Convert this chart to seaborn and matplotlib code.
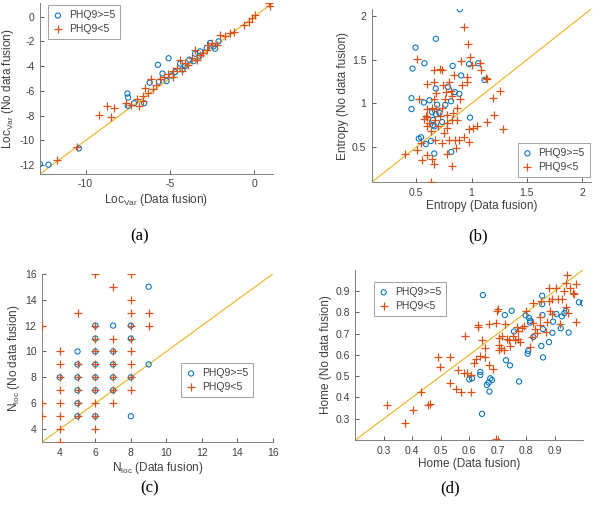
import numpy as np
import pandas as pd
import seaborn as sns
import matplotlib.pyplot as plt

# ---- panel (a): LocVar
a_hi_x = [-12.7, -12.2, -10.4, -7.52, -7.48, -7.5, -7.12, -6.53, -5.71, -5.44, -5.08, -5.65, -5.2, -6.2,
          -4.9, -4.7, -4.4, -4.1, -3.85, -3.51, -3.21, -2.62, -2.42, -2.32, -2.12, -2.82, -3.25, -3.6, -4.25]
a_hi_y = [-11.9, -11.95, -10.64, -6.21, -6.53, -7.2, -6.99, -6.99, -3.89, -4.59, -3.36, -5.25, -5.2, -5.33,
          -4.75, -4.48, -3.79, -4.0, -3.47, -2.99, -2.8, -2.13, -2.4, -2.59, -2.0, -2.53, -3.2, -3.6, -4.27]
a_lo_x = [-9.2, -8.73, -8.47, -8.3, -10.5, -11.7, -7.58, -6.94, -6.83, -6.6, -6.45, -6.3, -6.15, -6.0,
          -5.8, -5.6, -5.36, -5.1, -4.8, -4.6, -4.4, -4.3, -4.1, -3.9, -3.71, -3.51, -3.41, -3.21, -3.02,
          -2.82, -2.72, -2.52, -2.22, -2.02, -1.73, -1.43, -1.23, -0.63, -0.34, -0.14, 0.06, 0.85, 0.91,
          -4.8, -6.6, -7.28]
a_lo_y = [-7.95, -7.2, -8.08, -7.41, -10.5, -11.55, -7.01, -6.67, -7.2, -6.4, -5.73, -6.13, -5.07, -5.87,
          -5.55, -5.07, -4.85, -4.67, -4.4, -4.13, -3.52, -4.4, -3.73, -3.87, -3.33, -2.67, -3.47, -3.07, -2.93,
          -2.67, -2.27, -2.13, -2.27, -1.47, -1.55, -1.33, -1.2, -0.67, -0.4, -0.13, 0.13, 1.12, 0.85,
          -4.85, -6.8, -7.15]

# ---- panel (b): Entropy
b_hi_x = [0.894, 0.494, 0.677, 0.466, 0.574, 0.829, 0.906, 0.977, 1.06, 1.117, 0.457, 0.457, 0.62, 0.569,
          0.677, 0.786, 0.849, 0.889, 0.814, 0.689, 0.763, 0.643, 0.677, 0.711, 0.734, 0.651, 0.666, 0.986,
          0.523, 0.543, 0.586, 0.634, 0.663, 0.817, 0.651]
b_hi_y = [2.08, 1.64, 1.74, 1.40, 1.46, 1.43, 1.32, 1.45, 1.46, 1.27, 1.06, 0.935, 1.036, 1.01,
          1.17, 1.19, 1.13, 1.11, 1.025, 0.985, 0.985, 0.90, 0.877, 0.892, 0.787, 0.752, 0.737, 0.838,
          0.597, 0.612, 0.535, 0.57, 0.426, 0.445, 0.81]
b_lo_x = [0.929, 0.969, 0.506, 0.986, 0.909, 1.006, 1.08, 1.086, 1.129, 1.143, 1.257, 1.191, 1.2, 1.286,
          1.137, 1.051, 1.014, 0.977, 0.974, 0.929, 0.891, 0.871, 0.871, 0.894, 0.957, 0.963, 0.914, 0.843,
          0.814, 0.8, 0.734, 0.714, 0.663, 0.6, 0.657, 0.68, 0.74, 0.771, 0.82, 0.757, 0.734, 0.78, 0.829,
          0.82, 0.777, 0.78, 0.749, 0.729, 0.671, 0.629, 0.6, 0.586, 0.571, 0.6, 0.643, 0.677, 0.671, 0.614,
          0.529, 0.594, 0.543, 0.506, 0.394, 0.549, 0.6, 0.643, 0.657, 0.637, 0.777, 0.823, 0.849, 0.857,
          0.8, 0.7, 0.714, 0.657]
b_lo_y = [1.876, 1.68, 1.514, 1.53, 1.49, 1.44, 1.46, 1.38, 1.29, 1.28, 1.14, 1.067, 0.873, 0.706,
          0.787, 0.737, 0.717, 0.706, 0.558, 0.62, 0.581, 0.815, 0.95, 1.048, 1.24, 1.30, 1.21, 1.32,
          1.145, 1.24, 1.378, 1.397, 1.378, 1.223, 1.24, 1.125, 1.21, 1.133, 1.087, 1.048, 0.95, 0.873, 0.892,
          0.815, 0.776, 0.717, 0.659, 0.543, 0.581, 0.679, 0.737, 0.853, 0.822, 0.931, 0.95, 0.931, 0.807, 0.776,
          1.048, 0.845, 0.543, 0.465, 0.418, 0.348, 0.414, 0.368, 0.309, 0.103, 0.418, 0.285, 0.581, 0.484,
          0.581, 0.737, 0.853, 1.048]

# ---- panel (c): Nloc
c_hi_x = [4, 5, 5, 5, 5, 5, 6, 6, 6, 6, 6, 6, 6, 7, 7, 7, 7, 8, 8, 8, 5, 7, 8, 9, 9]
c_hi_y = [8, 9, 8, 7, 6, 5, 12, 11, 10, 9, 8, 7, 5, 10, 9, 8, 7, 12, 11, 8, 10, 12, 5, 15, 9]
c_lo_x = [4, 5, 5, 5, 5, 5, 6, 6, 6, 6, 6, 6, 6, 7, 7, 7, 7, 8, 8, 8,
          3, 3, 3, 4, 4, 4, 4, 4, 4, 4, 5, 6, 6, 6, 7, 7, 7, 8, 8, 8, 8, 8, 8, 9, 9]
c_lo_y = [8, 9, 8, 7, 6, 5, 12, 11, 10, 9, 8, 7, 5, 10, 9, 8, 7, 12, 11, 8,
          12, 6, 5, 10, 9, 7, 6, 5, 4, 3, 13, 16, 6, 4, 15, 11, 6, 16, 14, 13, 10, 9, 7, 13, 12]

# ---- panel (d): Home
d_hi_x = [0.648, 0.857, 0.749, 0.725, 0.757, 0.856, 0.856, 0.814, 0.81, 0.813, 0.825, 0.807, 0.805, 0.859,
          0.853, 0.859, 0.892, 0.894, 0.88, 0.906, 0.921, 0.925, 0.934, 0.94, 0.949, 0.985, 0.999, 0.798,
          0.729, 0.743, 0.775, 0.674, 0.68, 0.668, 0.671, 0.662, 0.639, 0.639, 0.61, 0.60, 0.645]
d_hi_y = [0.881, 0.787, 0.807, 0.787, 0.71, 0.878, 0.838, 0.761, 0.774, 0.752, 0.684, 0.619, 0.606, 0.721,
          0.642, 0.588, 0.704, 0.756, 0.66, 0.792, 0.725, 0.781, 0.796, 0.807, 0.705, 0.847, 0.843, 0.786,
          0.575, 0.551, 0.475, 0.49, 0.482, 0.47, 0.428, 0.459, 0.52, 0.506, 0.49, 0.485, 0.323]
d_lo_x = [0.312, 0.374, 0.404, 0.432, 0.456, 0.461, 0.491, 0.496, 0.532, 0.531, 0.553, 0.56, 0.571, 0.584,
          0.581, 0.592, 0.606, 0.606, 0.616, 0.625, 0.631, 0.631, 0.639, 0.645, 0.654, 0.656, 0.668, 0.671,
          0.683, 0.693, 0.694, 0.697, 0.70, 0.703, 0.706, 0.71, 0.714, 0.722, 0.725, 0.732, 0.738, 0.743,
          0.755, 0.76, 0.768, 0.772, 0.772, 0.778, 0.784, 0.792, 0.801, 0.813, 0.819, 0.825, 0.83, 0.839,
          0.848, 0.853, 0.868, 0.873, 0.88, 0.881, 0.883, 0.89, 0.892, 0.904, 0.911, 0.917, 0.925, 0.932,
          0.94, 0.946, 0.944, 0.941, 0.955, 0.965, 0.969, 0.975, 0.975, 0.848, 0.825, 0.706]
d_lo_y = [0.365, 0.278, 0.34, 0.424, 0.367, 0.371, 0.588, 0.541, 0.591, 0.467, 0.442, 0.529, 0.428, 0.69,
          0.513, 0.516, 0.506, 0.428, 0.56, 0.583, 0.742, 0.73, 0.594, 0.671, 0.634, 0.588, 0.745, 0.552,
          0.532, 0.204, 0.748, 0.807, 0.815, 0.645, 0.625, 0.634, 0.691, 0.625, 0.745, 0.676, 0.668, 0.64,
          0.691, 0.668, 0.73, 0.714, 0.676, 0.66, 0.727, 0.738, 0.807, 0.637, 0.684, 0.846, 0.722, 0.702,
          0.742, 0.851, 0.707, 0.753, 0.854, 0.912, 0.807, 0.792, 0.861, 0.912, 0.861, 0.745, 0.861, 0.9,
          0.823, 0.799, 0.977, 0.939, 0.912, 0.892, 0.888, 0.931, 0.756, 0.776, 0.748, 0.68]

BLUE = "#0072BD"
ORANGE = "#D95319"
LINE = "#EDB120"
GREY = "#404040"

sns.set_theme(style="white")
plt.rcParams["font.family"] = ["Liberation Sans", "DejaVu Sans"]
plt.rcParams["mathtext.fontset"] = "custom"
plt.rcParams["mathtext.rm"] = "Liberation Sans"
plt.rcParams["mathtext.it"] = "Liberation Sans"

fig = plt.figure(figsize=(6.0, 5.07), dpi=100)

panels = [
    dict(pos=[0.0667, 0.657, 0.388, 0.337], hx=a_hi_x, hy=a_hi_y, lx=a_lo_x, ly=a_lo_y,
         lim=(-12.7, 1.1), ticks_x=[-10, -5, 0], ticks_y=[-12, -10, -8, -6, -4, -2, 0],
         xl=r"Loc$_{\mathregular{Var}}$ (Data fusion)", yl=r"Loc$_{\mathregular{Var}}$ (No data fusion)",
         leg=("upper left", (0.08, 0.990)), tag="(a)", tagpos=(0.233, 0.534)),
    dict(pos=[0.62, 0.641, 0.365, 0.341], hx=b_hi_x, hy=b_hi_y, lx=b_lo_x, ly=b_lo_y,
         lim=(0.1, 2.08), ticks_x=[0.5, 1, 1.5, 2], ticks_y=[0.5, 1, 1.5, 2],
         xl="Entropy (Data fusion)", yl="Entropy (No data fusion)",
         leg=("lower right", (0.983, 0.651)), tag="(b)", tagpos=(0.797, 0.534)),
    dict(pos=[0.07, 0.128, 0.385, 0.332], hx=c_hi_x, hy=c_hi_y, lx=c_lo_x, ly=c_lo_y,
         lim=(3, 16), ticks_x=[4, 6, 8, 10, 12, 14, 16], ticks_y=[4, 6, 8, 10, 12, 14, 16],
         xl=r"N$_{\mathregular{loc}}$ (Data fusion)", yl=r"N$_{\mathregular{loc}}$ (No data fusion)",
         leg=("upper left", (0.302, 0.284)), tag="(c)", tagpos=(0.25, 0.037)),
    dict(pos=[0.592, 0.132, 0.38, 0.336], hx=d_hi_x, hy=d_hi_y, lx=d_lo_x, ly=d_lo_y,
         lim=(0.2, 1.0), ticks_x=[0.3, 0.4, 0.5, 0.6, 0.7, 0.8, 0.9], ticks_y=[0.3, 0.4, 0.5, 0.6, 0.7, 0.8, 0.9],
         xl="Home (Data fusion)", yl="Home (No data fusion)",
         leg=("upper left", (0.623, 0.444)), tag="(d)", tagpos=(0.75, 0.037)),
]

for p in panels:
    ax = fig.add_axes(p["pos"])
    lo, hi = p["lim"]
    ax.plot([lo, hi], [lo, hi], color=LINE, lw=0.8, zorder=1)
    sns.scatterplot(x=p["hx"], y=p["hy"], marker="o", s=14, color=BLUE, linewidth=0.75,
                    label="PHQ9>=5", ax=ax, zorder=2)
    circ = ax.collections[-1]
    circ.set_facecolor("none")
    circ.set_edgecolor(BLUE)
    sns.scatterplot(x=p["lx"], y=p["ly"], marker="+", s=28, color=ORANGE, linewidth=0.9,
                    label="PHQ9<5", ax=ax, zorder=3)
    plus = ax.collections[-1]
    plus.set_edgecolor(ORANGE)
    plus.set_facecolor(ORANGE)
    ax.set_xlim(lo, hi)
    ax.set_ylim(lo, hi)
    ax.set_xticks(p["ticks_x"])
    ax.set_yticks(p["ticks_y"])
    ax.set_xticklabels([f"{t:g}" for t in p["ticks_x"]])
    ax.set_yticklabels([f"{t:g}" for t in p["ticks_y"]])
    ax.set_xlabel(p["xl"], fontsize=8.5, color=GREY, labelpad=2)
    ax.set_ylabel(p["yl"], fontsize=8.5, color=GREY, labelpad=2)
    ax.tick_params(direction="in", length=3, width=0.6, colors=GREY, labelsize=7.5, pad=4,
                   bottom=True, left=True)
    for side in ["top", "right"]:
        ax.spines[side].set_visible(False)
    for side in ["left", "bottom"]:
        ax.spines[side].set_color("#808080")
        ax.spines[side].set_linewidth(0.7)
    leg = ax.legend(loc=p["leg"][0], bbox_to_anchor=p["leg"][1], bbox_transform=fig.transFigure,
                    fontsize=7.5, frameon=True, fancybox=False, borderpad=0.5, handlelength=0.9,
                    handletextpad=0.6, labelspacing=0.35, borderaxespad=0)
    leg.get_frame().set_edgecolor("#8a8a8a")
    leg.get_frame().set_linewidth(0.7)
    for t in leg.get_texts():
        t.set_color(GREY)
    fig.text(p["tagpos"][0], p["tagpos"][1], p["tag"], ha="center", va="center",
             fontsize=12, family="Liberation Serif", color="black")

fig.savefig("out.png", dpi=100)
